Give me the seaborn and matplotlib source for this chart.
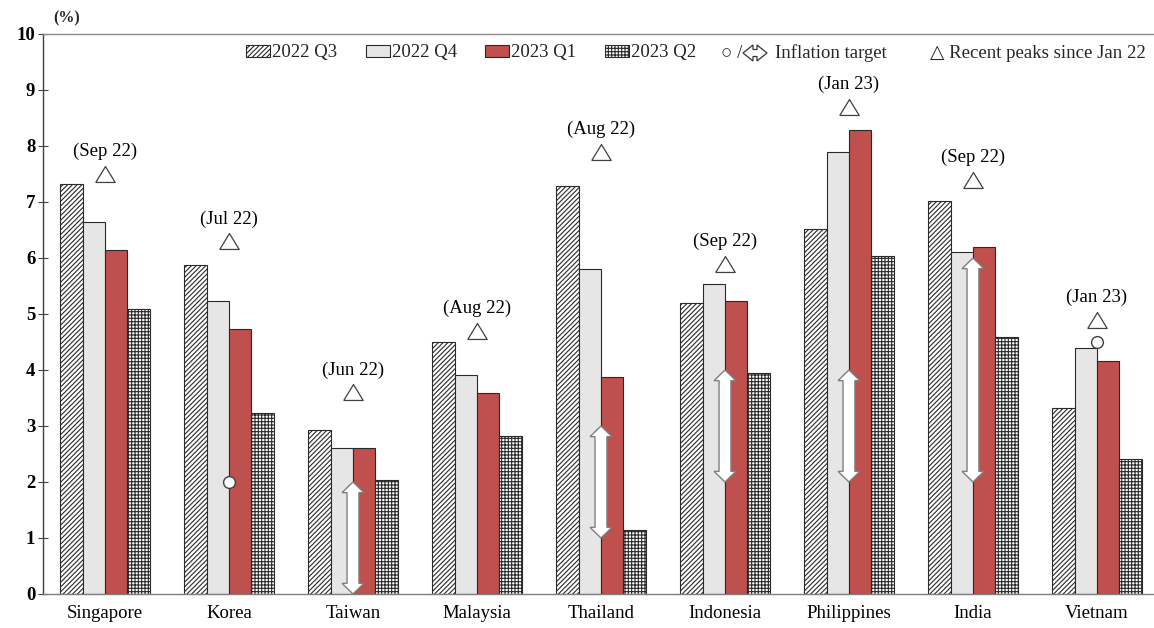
import numpy as np
import pandas as pd
import matplotlib
matplotlib.use("Agg")
import matplotlib.pyplot as plt
import seaborn as sns
from matplotlib.patches import Patch, Polygon

# Headline CPI inflation, quarterly averages (% y/y)
countries = ["Singapore", "Korea", "Taiwan", "Malaysia", "Thailand",
             "Indonesia", "Philippines", "India", "Vietnam"]
quarters = ["2022 Q3", "2022 Q4", "2023 Q1", "2023 Q2"]
cpi_2022_q3 = [7.32, 5.87, 2.93, 4.50, 7.29, 5.20, 6.52, 7.02, 3.32]
cpi_2022_q4 = [6.64, 5.24, 2.60, 3.91, 5.80, 5.54, 7.89, 6.11, 4.39]
cpi_2023_q1 = [6.14, 4.74, 2.61, 3.59, 3.88, 5.23, 8.29, 6.20, 4.16]
cpi_2023_q2 = [5.09, 3.23, 2.04, 2.82, 1.14, 3.95, 6.04, 4.59, 2.41]

# Recent peaks since Jan 2022
peak_values = [7.5, 6.3, 3.6, 4.7, 7.9, 5.9, 8.7, 7.4, 4.9]
peak_labels = ["(Sep 22)", "(Jul 22)", "(Jun 22)", "(Aug 22)", "(Aug 22)",
               "(Sep 22)", "(Jan 23)", "(Sep 22)", "(Jan 23)"]

# Inflation targets: point targets and target ranges
point_target_countries = ["Korea", "Vietnam"]
point_target_values = [2.0, 4.5]
range_target_countries = ["Taiwan", "Thailand", "Indonesia", "Philippines", "India"]
range_target_low = [0.0, 1.0, 2.0, 2.0, 2.0]
range_target_high = [2.0, 3.0, 4.0, 4.0, 6.0]

y_ticks = list(range(0, 11))

sns.set_theme(style="white")
plt.rcParams["font.family"] = ["Liberation Serif", "DejaVu Sans"]
plt.rcParams["hatch.linewidth"] = 0.8

df = pd.DataFrame({
    "country": countries * 4,
    "quarter": np.repeat(quarters, len(countries)),
    "value": cpi_2022_q3 + cpi_2022_q4 + cpi_2023_q1 + cpi_2023_q2,
})

W, H = 1154, 628
fig = plt.figure(figsize=(W / 100, H / 100), dpi=100)
ax = fig.add_axes([43 / W, 34 / H, (W - 43) / W, 560 / H])

face_colors = ["white", "#e6e6e6", "#c0504d", "white"]
hatches = ["///////", None, None, "+++++"]
edge = "#2a2a2a"

sns.barplot(data=df, x="country", y="value", hue="quarter", order=countries,
            hue_order=quarters, palette=face_colors, saturation=1, width=0.72,
            gap=0, edgecolor=edge, linewidth=0.8, legend=False, errorbar=None, ax=ax)

for cont, h in zip(ax.containers, hatches):
    for bar in cont:
        bar.set_edgecolor(edge)
        if h:
            bar.set_hatch(h)

xpos = {c: i for i, c in enumerate(countries)}


def arrow_verts(x, lo, hi, shaft, head, head_len):
    """Outline of a vertical double-headed block arrow from lo to hi."""
    return [(x, hi), (x + head, hi - head_len), (x + shaft, hi - head_len),
            (x + shaft, lo + head_len), (x + head, lo + head_len), (x, lo),
            (x - head, lo + head_len), (x - shaft, lo + head_len),
            (x - shaft, hi - head_len), (x - head, hi - head_len)]


# Double-headed arrows for target ranges
for c, lo, hi in zip(range_target_countries, range_target_low, range_target_high):
    ax.add_patch(Polygon(arrow_verts(xpos[c], lo, hi, 0.048, 0.088, 0.19),
                         closed=True, facecolor="white", edgecolor="#7f7f7f",
                         linewidth=1.0, zorder=5))

# Point targets
ax.plot([xpos[c] for c in point_target_countries], point_target_values,
        linestyle="none", marker="o", markersize=8.5, markerfacecolor="white",
        markeredgecolor="#404040", markeredgewidth=1.0, zorder=6)

# Recent peaks
tri = [(-1, -0.82), (1, -0.82), (0, 0.82), (-1, -0.82)]
ax.plot(range(len(countries)), peak_values, linestyle="none", marker=tri,
        markersize=14, markerfacecolor="white", markeredgecolor="#404040",
        markeredgewidth=0.9, zorder=6)
for i, (v, lab) in enumerate(zip(peak_values, peak_labels)):
    ax.annotate(lab, (i, v), xytext=(0, 16), textcoords="offset points",
                ha="center", va="center", fontsize=13.5, color="black", zorder=7)

ax.set_xlim(-0.5, 8.46)
ax.set_ylim(0, 10)
ax.set_yticks(y_ticks)
ax.set_xlabel("")
ax.set_ylabel("")
ax.tick_params(axis="y", direction="inout", length=7, width=0.8, color="#404040",
               labelsize=13.5, pad=2, left=True)
ax.tick_params(axis="x", length=0, labelsize=13.5, pad=8)
for lab in ax.get_xticklabels() + ax.get_yticklabels():
    lab.set_color("black")
for lab in ax.get_yticklabels():
    lab.set_fontweight("bold")

ax.spines["right"].set_visible(False)
ax.spines["left"].set_color("#404040")
ax.spines["bottom"].set_color("#7f7f7f")
ax.spines["top"].set_color("#8c8c8c")
for s in ["left", "bottom", "top"]:
    ax.spines[s].set_linewidth(1.0)

fig.text(53 / W, 1 - 18 / H, "(%)", fontsize=11.5, fontweight="bold",
         va="center", ha="left")

# Legend: bar series
handles = [Patch(facecolor=fc, edgecolor=edge, hatch=h, linewidth=0.8, label=q)
           for fc, h, q in zip(face_colors, hatches, quarters)]
fig.legend(handles=handles, loc="center left", bbox_to_anchor=(246 / W, 1 - 53 / H),
           ncol=4, frameon=False, fontsize=13.5, handlelength=1.3,
           handleheight=0.65, handletextpad=0.1, columnspacing=1.5,
           borderpad=0, borderaxespad=0)

# Legend: target and peak symbols
fig.text(721 / W, 1 - 53 / H, "\u25cb /", fontsize=13.5, va="center", ha="left",
         family=["Liberation Serif", "DejaVu Sans"])
legend_arrow_px = [(743, 53), (753, 45), (753, 49.5), (757, 49.5), (757, 45),
                   (767, 53), (757, 61), (757, 56.5), (753, 56.5), (753, 61)]
fig.add_artist(Polygon([(px / W, 1 - py / H) for px, py in legend_arrow_px],
                       closed=True, transform=fig.transFigure, facecolor="white",
                       edgecolor="#333333", linewidth=0.9))
fig.text(775 / W, 1 - 53 / H, "Inflation target", fontsize=13.5, va="center",
         ha="left")
fig.text(930 / W, 1 - 53 / H, "\u25b3 Recent peaks since Jan 22", fontsize=13.5,
         va="center", ha="left", family=["Liberation Serif", "DejaVu Sans"])

fig.savefig("out.png", dpi=100)
